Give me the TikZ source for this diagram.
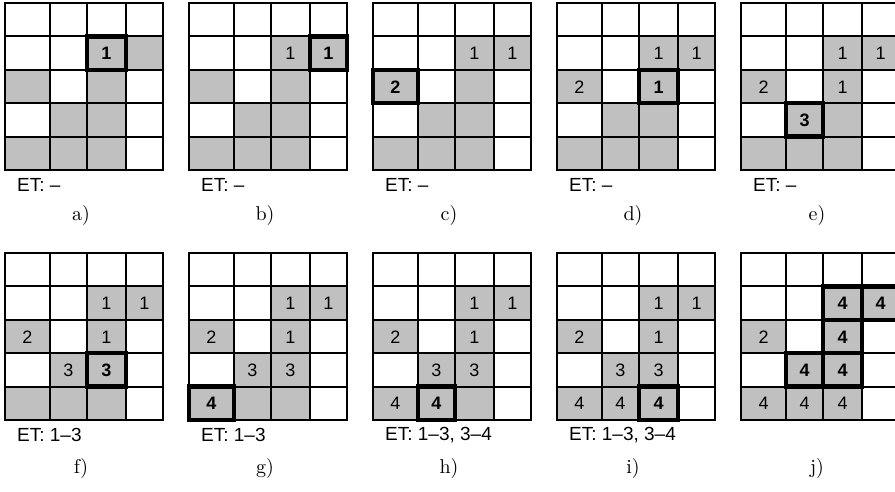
\documentclass[tikz,border=0pt]{standalone}
\usepackage{fontspec}
\newfontfamily\arialfont{Liberation Sans}
\newfontfamily\capfont{lmroman10-regular.otf}
\definecolor{cellgray}{RGB}{192,192,192}
\tikzset{
  gridline/.style={draw=black, line width=2pt},
  hlbox/.style={draw=black, line width=4.5pt, line join=miter},
  num/.style={inner sep=0pt, font=\arialfont\fontsize{18}{20}\selectfont},
  numb/.style={inner sep=0pt, font=\arialfont\bfseries\fontsize{18}{20}\selectfont},
  etlabel/.style={anchor=west, inner sep=0pt, font=\arialfont\fontsize{19}{21}\selectfont},
  caplabel/.style={inner sep=0pt, font=\capfont\fontsize{20}{24}\selectfont},
}
\newcommand\cellnum[4]{%
  \pgfmathsetmacro\cxa{{0,45,82,121,158}[#1]}%
  \pgfmathsetmacro\cxb{{0,45,82,121,158}[#1+1]}%
  \pgfmathsetmacro\cya{#2*33.4}%
  \pgfmathsetmacro\cyb{(#2+1)*33.4}%
  \node[#4] (n\pn-#1-#2) at ({(\cxa+\cxb)/2},{(\cya+\cyb)/2+0.5}) {#3};%
}
\newcommand\hl[2]{%
  \pgfmathsetmacro\cxa{{0,45,82,121,158}[#1]}%
  \pgfmathsetmacro\cxb{{0,45,82,121,158}[#1+1]}%
  \pgfmathsetmacro\cya{#2*33.4}%
  \pgfmathsetmacro\cyb{(#2+1)*33.4}%
  \draw[hlbox] (\cxa,\cya) rectangle (\cxb,\cyb);%
}
% #1 x, #2 y, #3 letter, #4 ET text, #5 caption y offset, #6 cell content
\newcommand\panel[6]{%
  \begin{scope}[shift={(#1,#2)}]
    \def\pn{#3}%
    \fill[cellgray] (82,33.4) rectangle (158,66.8);
    \fill[cellgray] (0,66.8) rectangle (45,100.2);
    \fill[cellgray] (82,66.8) rectangle (121,100.2);
    \fill[cellgray] (45,100.2) rectangle (121,133.6);
    \fill[cellgray] (0,133.6) rectangle (121,167);
    \foreach \xx in {45,82,121} \draw[gridline] (\xx,0) -- (\xx,167);
    \foreach \yy in {33.4,66.8,100.2,133.6} \draw[gridline] (0,\yy) -- (158,\yy);
    \draw[gridline] (0,0) rectangle (158,167);
    #6
    \def\ettext{#4}%
    \ifx\ettext\empty\else
      \node[etlabel] (et#3) at (12,182) {#4};
    \fi
    \node[caplabel] (cap#3) at (76,#5) {#3)};
  \end{scope}}
\begin{document}
\begin{tikzpicture}[x=1pt,y=-1pt]
\useasboundingbox (0,0) rectangle (895,491);
\clip (0,0) rectangle (895,491);
\fill[white] (0,0) rectangle (895,491);
% row 1
\panel{5}{3}{a}{ET: –}{212}{%
  \hl{2}{1}\cellnum{2}{1}{1}{numb}}
\panel{189}{3}{b}{ET: –}{212}{%
  \cellnum{2}{1}{1}{num}\hl{3}{1}\cellnum{3}{1}{1}{numb}}
\panel{373}{3}{c}{ET: –}{212}{%
  \cellnum{2}{1}{1}{num}\cellnum{3}{1}{1}{num}\hl{0}{2}\cellnum{0}{2}{2}{numb}}
\panel{557}{3}{d}{ET: –}{212}{%
  \cellnum{2}{1}{1}{num}\cellnum{3}{1}{1}{num}\cellnum{0}{2}{2}{num}%
  \hl{2}{2}\cellnum{2}{2}{1}{numb}}
\panel{741}{3}{e}{ET: –}{212}{%
  \cellnum{2}{1}{1}{num}\cellnum{3}{1}{1}{num}\cellnum{0}{2}{2}{num}%
  \cellnum{2}{2}{1}{num}\hl{1}{3}\cellnum{1}{3}{3}{numb}}
% row 2
\panel{5}{253}{f}{ET: 1–3}{215}{%
  \cellnum{2}{1}{1}{num}\cellnum{3}{1}{1}{num}\cellnum{0}{2}{2}{num}%
  \cellnum{2}{2}{1}{num}\cellnum{1}{3}{3}{num}\hl{2}{3}\cellnum{2}{3}{3}{numb}}
\panel{189}{253}{g}{ET: 1–3}{215}{%
  \cellnum{2}{1}{1}{num}\cellnum{3}{1}{1}{num}\cellnum{0}{2}{2}{num}%
  \cellnum{2}{2}{1}{num}\cellnum{1}{3}{3}{num}\cellnum{2}{3}{3}{num}%
  \hl{0}{4}\cellnum{0}{4}{4}{numb}}
\panel{373}{253}{h}{ET: 1–3, 3–4}{215}{%
  \cellnum{2}{1}{1}{num}\cellnum{3}{1}{1}{num}\cellnum{0}{2}{2}{num}%
  \cellnum{2}{2}{1}{num}\cellnum{1}{3}{3}{num}\cellnum{2}{3}{3}{num}%
  \cellnum{0}{4}{4}{num}\hl{1}{4}\cellnum{1}{4}{4}{numb}}
\panel{557}{253}{i}{ET: 1–3, 3–4}{215}{%
  \cellnum{2}{1}{1}{num}\cellnum{3}{1}{1}{num}\cellnum{0}{2}{2}{num}%
  \cellnum{2}{2}{1}{num}\cellnum{1}{3}{3}{num}\cellnum{2}{3}{3}{num}%
  \cellnum{0}{4}{4}{num}\cellnum{1}{4}{4}{num}\hl{2}{4}\cellnum{2}{4}{4}{numb}}
\panel{741}{253}{j}{}{215}{%
  \hl{2}{1}\hl{3}{1}\hl{2}{2}\hl{1}{3}\hl{2}{3}%
  \cellnum{2}{1}{4}{numb}\cellnum{3}{1}{4}{numb}\cellnum{0}{2}{2}{num}%
  \cellnum{2}{2}{4}{numb}\cellnum{1}{3}{4}{numb}\cellnum{2}{3}{4}{numb}%
  \cellnum{0}{4}{4}{num}\cellnum{1}{4}{4}{num}\cellnum{2}{4}{4}{num}}
\end{tikzpicture}
\end{document}
